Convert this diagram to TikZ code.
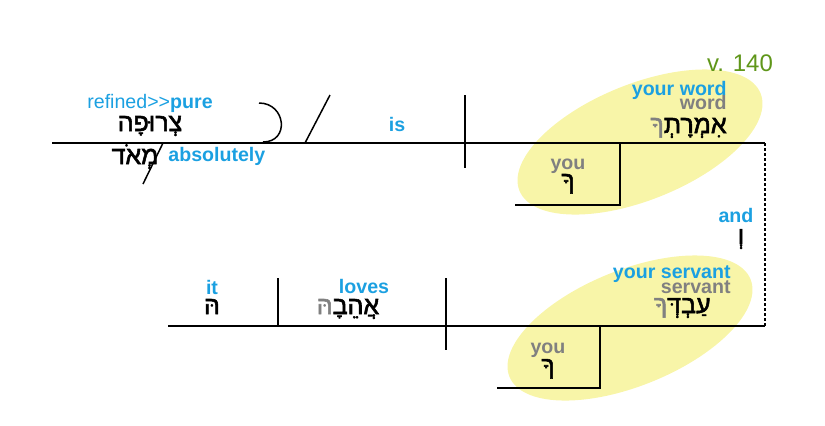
\documentclass[tikz,border=0pt]{standalone}
\usepackage{fontspec}
\setmainfont{Liberation Sans}
\newfontfamily\hebfont[Script=Hebrew, FakeBold=2.2]{Liberation Sans}
\TeXXeTstate=1
\usetikzlibrary{positioning}

\definecolor{glossblue}{RGB}{27,160,225}
\definecolor{glossgray}{RGB}{128,128,128}
\definecolor{versegreen}{RGB}{95,150,25}
\definecolor{hilite}{RGB}{248,245,168}

\tikzset{
  line/.style={line width=0.75pt},
  eng/.style={inner sep=0pt, text=glossblue, font=\fontsize{9.8}{11}\selectfont\bfseries},
  lit/.style={eng, text=glossgray},
  heb/.style={inner sep=0pt, font=\fontsize{12.5}{14}\selectfont\hebfont},
}

\begin{document}
\begin{tikzpicture}[x=0.5pt,y=-0.5pt]
  \useasboundingbox (0,0) rectangle (825,425);
  \fill[hilite, rotate around={22:(640,142)}] (640,142) ellipse [x radius=130, y radius=58];
  \fill[hilite, rotate around={22:(630,328)}] (630,328) ellipse [x radius=130, y radius=58];

  % top clause
  \coordinate (t0) at (52,143);
  \coordinate (t1) at (765,143);
  \coordinate (sv1) at (465,95);
  \coordinate (sv2) at (465,168);
  \coordinate (pa1) at (305,143);
  \coordinate (pa2) at (330,95);
  \coordinate (md1) at (163,143);
  \coordinate (md2) at (143,184);
  \coordinate (ar1) at (259,103);
  \coordinate (ar2) at (263,142);
  \coordinate (ps1) at (620,143);
  \coordinate (ps2) at (620,205);
  \coordinate (ps3) at (515,205);
  % bottom clause
  \coordinate (b0) at (168,326);
  \coordinate (b1) at (765,326);
  \coordinate (bv1) at (446,278);
  \coordinate (bv2) at (446,350);
  \coordinate (do1) at (278,278);
  \coordinate (do2) at (278,326);
  \coordinate (bp1) at (600,326);
  \coordinate (bp2) at (600,388);
  \coordinate (bp3) at (497,388);

  \draw[line] (t0) -- (t1);
  \draw[line] (sv1) -- (sv2);
  \draw[line] (pa1) -- (pa2);
  \draw[line] (md1) -- (md2);
  \draw[line] (ar1) .. controls +(27,0) and +(27,0) .. (ar2);
  \draw[line] (ps1) -- (ps2) -- (ps3);
  \draw[line] (b0) -- (b1);
  \draw[line] (bv1) -- (bv2);
  \draw[line] (do1) -- (do2);
  \draw[line] (bp1) -- (bp2) -- (bp3);
  \draw[line, dash pattern=on 1.5pt off 1pt] (t1) -- (b1);

  \node[inner sep=0pt, text=versegreen, font=\fontsize{12}{14}\selectfont, anchor=base] (vn) at (740,71) {v. 140};

  % top clause words
  \node[heb, anchor=base] (tsr) at (150,131) {\beginR צְרוּפָה\endR};
  \node[eng, above=11.5pt of tsr.base, anchor=base] (ref) {\mdseries refined>{}>\bfseries pure};
  \node[heb, anchor=base] (mod) at (135,164) {\beginR מְאֹד\endR};
  \node[eng, anchor=base west] (abs) at (168,161) {absolutely};
  \node[eng, anchor=base] (is) at (397,131) {is};
  \node[heb, anchor=base east] (amr) at (727,133) {{\color{glossgray}ךָ}אִמְרָתְ};
  \node[lit, above=12pt of amr.base east, anchor=base east] (wd) {word};
  \node[eng, above=7pt of wd.base east, anchor=base east] (ywd) {your word};
  \node[heb, anchor=base] (k1) at (568,189) {\beginR ךָ\endR};
  \node[lit, above=10pt of k1.base, anchor=base] (y1) {you};

  % link
  \node[eng, anchor=base] (and) at (736,222) {and};
  \node[heb, anchor=base] (vav) at (741,244) {\beginR וְ\endR};

  % bottom clause words
  \node[heb, anchor=base] (obj) at (212,314) {\beginR הּ\endR};
  \node[eng, above=10pt of obj.base, anchor=base] (it) {it};
  \node[heb, anchor=base] (vb) at (348,314) {{\color{glossgray}הּ}אֲהֵבָ};
  \node[eng, anchor=base] (lv) at (364,293) {loves};
  \node[heb, anchor=base east] (ebd) at (711,313) {{\color{glossgray}ךָ}עַבְדְּ};
  \node[lit, anchor=base east] (sv) at (731,293) {servant};
  \node[eng, above=7.5pt of sv.base east, anchor=base east] (ysv) {your servant};
  \node[heb, anchor=base] (k2) at (548,374) {\beginR ךָ\endR};
  \node[lit, above=10.5pt of k2.base, anchor=base] (y2) {you};
\end{tikzpicture}
\end{document}
